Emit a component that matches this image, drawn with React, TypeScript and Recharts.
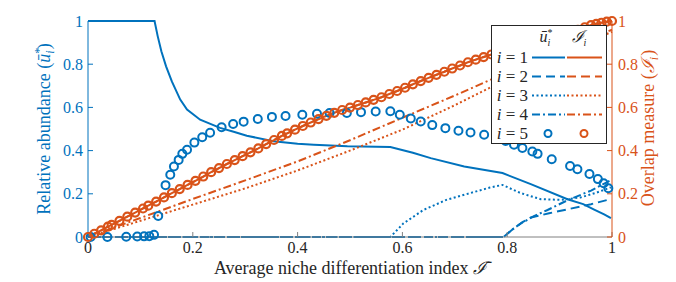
import { ComposedChart, Line, XAxis, YAxis } from "recharts";

const BLUE = "#0072BD";
const ORANGE = "#D95319";
const AXIS = "#808080";
const FONT = '"Liberation Serif", "DejaVu Serif", serif';

const ticks = [0, 0.2, 0.4, 0.6, 0.8, 1];

// relative abundance, left axis
const u1X = [0, 0.127, 0.133, 0.14, 0.149, 0.16, 0.176, 0.189, 0.214, 0.252, 0.278, 0.303, 0.354, 0.4, 0.431, 0.495, 0.577, 0.62, 0.654, 0.718, 0.791, 0.845, 0.915, 0.945, 0.966, 0.985, 0.998];
const u1Y = [1, 1, 0.93, 0.86, 0.79, 0.72, 0.636, 0.59, 0.543, 0.505, 0.487, 0.469, 0.443, 0.432, 0.427, 0.42, 0.417, 0.39, 0.365, 0.326, 0.296, 0.245, 0.175, 0.152, 0.127, 0.105, 0.087];

const u2X = [0, 0.793, 0.81, 0.83, 0.845, 0.88, 0.915, 0.96, 0.998];
const u2Y = [0, 0, 0.035, 0.07, 0.09, 0.11, 0.128, 0.152, 0.176];

const u3X = [0, 0.577, 0.602, 0.64, 0.684, 0.729, 0.767, 0.791, 0.826, 0.864, 0.902, 0.94, 0.97, 0.998];
const u3Y = [0, 0, 0.063, 0.125, 0.172, 0.203, 0.229, 0.241, 0.203, 0.175, 0.172, 0.183, 0.205, 0.23];

const u4X = [0, 0.793, 0.81, 0.826, 0.85, 0.877, 0.915, 0.96, 0.998];
const u4Y = [0, 0, 0.035, 0.063, 0.095, 0.125, 0.17, 0.215, 0.264];

const u5X = [0.005, 0.037, 0.073, 0.094, 0.107, 0.117, 0.126, 0.134, 0.148, 0.157, 0.164, 0.173, 0.18, 0.189, 0.203, 0.218, 0.233, 0.255, 0.277, 0.297, 0.324, 0.351, 0.377, 0.409, 0.437, 0.461, 0.494, 0.521, 0.549, 0.577, 0.595, 0.616, 0.635, 0.657, 0.682, 0.707, 0.73, 0.756, 0.78, 0.797, 0.813, 0.829, 0.848, 0.858, 0.885, 0.92, 0.934, 0.957, 0.973, 0.984, 0.993];
const u5Y = [0, 0, 0.001, 0.002, 0.003, 0.004, 0.01, 0.097, 0.24, 0.288, 0.326, 0.357, 0.385, 0.404, 0.437, 0.462, 0.483, 0.508, 0.523, 0.534, 0.546, 0.556, 0.56, 0.566, 0.571, 0.574, 0.574, 0.578, 0.581, 0.582, 0.566, 0.549, 0.535, 0.518, 0.504, 0.492, 0.484, 0.473, 0.46, 0.445, 0.427, 0.412, 0.396, 0.385, 0.36, 0.329, 0.314, 0.292, 0.268, 0.249, 0.226];

// overlap measure, right axis (i = 1, 2 and 5 lie on the same curve)
const ovX = [0, 0.012, 0.025, 0.038, 0.045, 0.06, 0.075, 0.09, 0.105, 0.115, 0.13, 0.145, 0.16, 0.175, 0.19, 0.205, 0.22, 0.235, 0.25, 0.265, 0.28, 0.295, 0.31, 0.325, 0.34, 0.355, 0.37, 0.38, 0.395, 0.41, 0.425, 0.44, 0.455, 0.47, 0.485, 0.5, 0.515, 0.53, 0.545, 0.56, 0.575, 0.59, 0.605, 0.62, 0.635, 0.65, 0.665, 0.68, 0.695, 0.71, 0.725, 0.74, 0.755, 0.77, 0.785, 0.8, 0.815, 0.83, 0.845, 0.86, 0.875, 0.89, 0.905, 0.92, 0.935, 0.948, 0.96, 0.97, 0.98, 0.99, 1];
const ovY = [0, 0.015, 0.031, 0.048, 0.056, 0.075, 0.094, 0.113, 0.132, 0.145, 0.164, 0.183, 0.203, 0.222, 0.241, 0.26, 0.28, 0.3, 0.319, 0.338, 0.356, 0.374, 0.392, 0.41, 0.43, 0.449, 0.468, 0.48, 0.497, 0.514, 0.53, 0.546, 0.561, 0.575, 0.588, 0.599, 0.611, 0.623, 0.635, 0.647, 0.662, 0.676, 0.691, 0.707, 0.722, 0.737, 0.751, 0.765, 0.78, 0.794, 0.809, 0.821, 0.833, 0.845, 0.856, 0.867, 0.877, 0.887, 0.897, 0.907, 0.917, 0.927, 0.937, 0.947, 0.959, 0.971, 0.981, 0.987, 0.992, 0.997, 1];

const ov3X = [0, 0.1, 0.2, 0.3, 0.4, 0.5, 0.6, 0.7, 0.77, 0.85, 0.92, 1];
const ov3Y = [0, 0.075, 0.15, 0.225, 0.308, 0.4, 0.497, 0.61, 0.695, 0.79, 0.87, 0.95];

const ov4X = [0, 0.1, 0.2, 0.3, 0.4, 0.5, 0.6, 0.7, 0.77, 0.85, 0.92, 1];
const ov4Y = [0, 0.088, 0.176, 0.262, 0.35, 0.448, 0.552, 0.655, 0.73, 0.81, 0.88, 0.96];

const zip = (xs: number[], ys: number[]) => xs.map((x, i) => ({ x, y: ys[i] }));

const DASH = "9 5";
const DOT = "2 2.5";
const DASHDOT = "8 3 2 3";

function XLabel() {
  return (
    <text x={350} y={274} textAnchor="middle" fontFamily={FONT} fontSize={18} fill="#262626">
      Average niche differentiation index <tspan fontStyle="italic">ℐ̄</tspan>
    </text>
  );
}

function LeftLabel() {
  return (
    <text transform="translate(50,129) rotate(-90)" textAnchor="middle" fontFamily={FONT} fontSize={18} fill={BLUE}>
      Relative abundance (<tspan fontStyle="italic">ū</tspan>
      <tspan dy={-7} fontSize={12}>*</tspan>
      <tspan dx={-6} dy={11} fontSize={12} fontStyle="italic">i</tspan>
      <tspan dx={1} dy={-4}>)</tspan>
    </text>
  );
}

function RightLabel() {
  return (
    <text transform="translate(654,128) rotate(-90)" textAnchor="middle" fontFamily={FONT} fontSize={18} fill={ORANGE}>
      Overlap measure (<tspan fontStyle="italic">ℐ</tspan>
      <tspan dy={4} fontSize={12} fontStyle="italic">i</tspan>
      <tspan dx={1} dy={-4}>)</tspan>
    </text>
  );
}

const legendRows = [
  { n: "1", dash: undefined as string | undefined, marker: false },
  { n: "2", dash: DASH, marker: false },
  { n: "3", dash: DOT, marker: false },
  { n: "4", dash: DASHDOT, marker: false },
  { n: "5", dash: undefined, marker: true },
];

function LegendBox() {
  return (
    <svg width={116} height={119} style={{ position: "absolute", left: 491, top: 25 }}>
      <rect x={0.5} y={0.5} width={115} height={118} fill="#fff" stroke="#262626" strokeWidth={1} />
      <text x={55} y={17} textAnchor="middle" fontFamily={FONT} fontSize={16} fill="#262626">
        <tspan fontStyle="italic">ū</tspan>
        <tspan dy={-6} fontSize={10}>*</tspan>
        <tspan dx={-5} dy={10} fontSize={10} fontStyle="italic">i</tspan>
      </text>
      <text x={88} y={17} textAnchor="middle" fontFamily={FONT} fontSize={16} fill="#262626">
        <tspan fontStyle="italic">ℐ</tspan>
        <tspan dy={4} fontSize={10} fontStyle="italic">i</tspan>
      </text>
      {legendRows.map((r, k) => {
        const cy = 32.5 + k * 19;
        return (
          <g key={r.n}>
            <text x={37} y={cy + 5.5} textAnchor="end" fontFamily={FONT} fontSize={17} fill="#262626">
              <tspan fontStyle="italic">i</tspan> = {r.n}
            </text>
            {r.marker ? (
              <>
                <circle cx={57} cy={cy} r={3.5} fill="none" stroke={BLUE} strokeWidth={2} />
                <circle cx={93} cy={cy} r={3.5} fill="none" stroke={ORANGE} strokeWidth={2} />
              </>
            ) : (
              <>
                <line x1={41} x2={74} y1={cy} y2={cy} stroke={BLUE} strokeWidth={2} strokeDasharray={r.dash} />
                <line x1={76} x2={111} y1={cy} y2={cy} stroke={ORANGE} strokeWidth={2} strokeDasharray={r.dash} />
              </>
            )}
          </g>
        );
      })}
    </svg>
  );
}

const tickStyle = (fill: string) => ({ fill, fontSize: 16, fontFamily: FONT });

export default function App() {
  return (
    <div style={{ position: "absolute", left: 0, top: 0, width: 676, height: 282, background: "#fff" }}>
      <ComposedChart width={676} height={282} margin={{ top: 21, right: 0, bottom: 0, left: 0 }}>
        <XAxis
          dataKey="x"
          type="number"
          domain={[0, 1]}
          ticks={ticks}
          tickSize={-5}
          tickMargin={10}
          height={45}
          axisLine={{ stroke: AXIS }}
          tickLine={{ stroke: AXIS }}
          tick={tickStyle("#262626")}
          label={<XLabel />}
        />
        <YAxis
          yAxisId="l"
          orientation="left"
          type="number"
          domain={[0, 1]}
          ticks={ticks}
          width={88}
          tickSize={-5}
          tickMargin={10}
          axisLine={{ stroke: BLUE }}
          tickLine={{ stroke: BLUE }}
          tick={tickStyle(BLUE)}
          label={<LeftLabel />}
        />
        <YAxis
          yAxisId="r"
          orientation="right"
          type="number"
          domain={[0, 1]}
          ticks={ticks}
          width={64}
          tickSize={-5}
          tickMargin={11}
          axisLine={{ stroke: ORANGE }}
          tickLine={{ stroke: ORANGE }}
          tick={tickStyle(ORANGE)}
          label={<RightLabel />}
        />

        <Line yAxisId="l" data={zip(u1X, u1Y)} dataKey="y" type="linear" stroke={BLUE} strokeWidth={2} dot={false} isAnimationActive={false} />
        <Line yAxisId="l" data={zip(u2X, u2Y)} dataKey="y" type="linear" stroke={BLUE} strokeWidth={2} strokeDasharray={DASH} dot={false} isAnimationActive={false} />
        <Line yAxisId="l" data={zip(u3X, u3Y)} dataKey="y" type="linear" stroke={BLUE} strokeWidth={2} strokeDasharray={DOT} dot={false} isAnimationActive={false} />
        <Line yAxisId="l" data={zip(u4X, u4Y)} dataKey="y" type="linear" stroke={BLUE} strokeWidth={2} strokeDasharray={DASHDOT} dot={false} isAnimationActive={false} />
        <Line yAxisId="l" data={zip(u5X, u5Y)} dataKey="y" type="linear" stroke="none" dot={{ r: 4, stroke: BLUE, strokeWidth: 2, fill: "none" }} isAnimationActive={false} />

        <Line yAxisId="r" data={zip(ovX, ovY)} dataKey="y" type="linear" stroke={ORANGE} strokeWidth={2} dot={false} isAnimationActive={false} />
        <Line yAxisId="r" data={zip(ovX, ovY)} dataKey="y" type="linear" stroke={ORANGE} strokeWidth={2} strokeDasharray={DASH} dot={false} isAnimationActive={false} />
        <Line yAxisId="r" data={zip(ov3X, ov3Y)} dataKey="y" type="linear" stroke={ORANGE} strokeWidth={2} strokeDasharray={DOT} dot={false} isAnimationActive={false} />
        <Line yAxisId="r" data={zip(ov4X, ov4Y)} dataKey="y" type="linear" stroke={ORANGE} strokeWidth={2} strokeDasharray={DASHDOT} dot={false} isAnimationActive={false} />
        <Line yAxisId="r" data={zip(ovX, ovY)} dataKey="y" type="linear" stroke="none" dot={{ r: 4, stroke: ORANGE, strokeWidth: 2.2, fill: "none" }} isAnimationActive={false} />
      </ComposedChart>
      <LegendBox />
    </div>
  );
}
